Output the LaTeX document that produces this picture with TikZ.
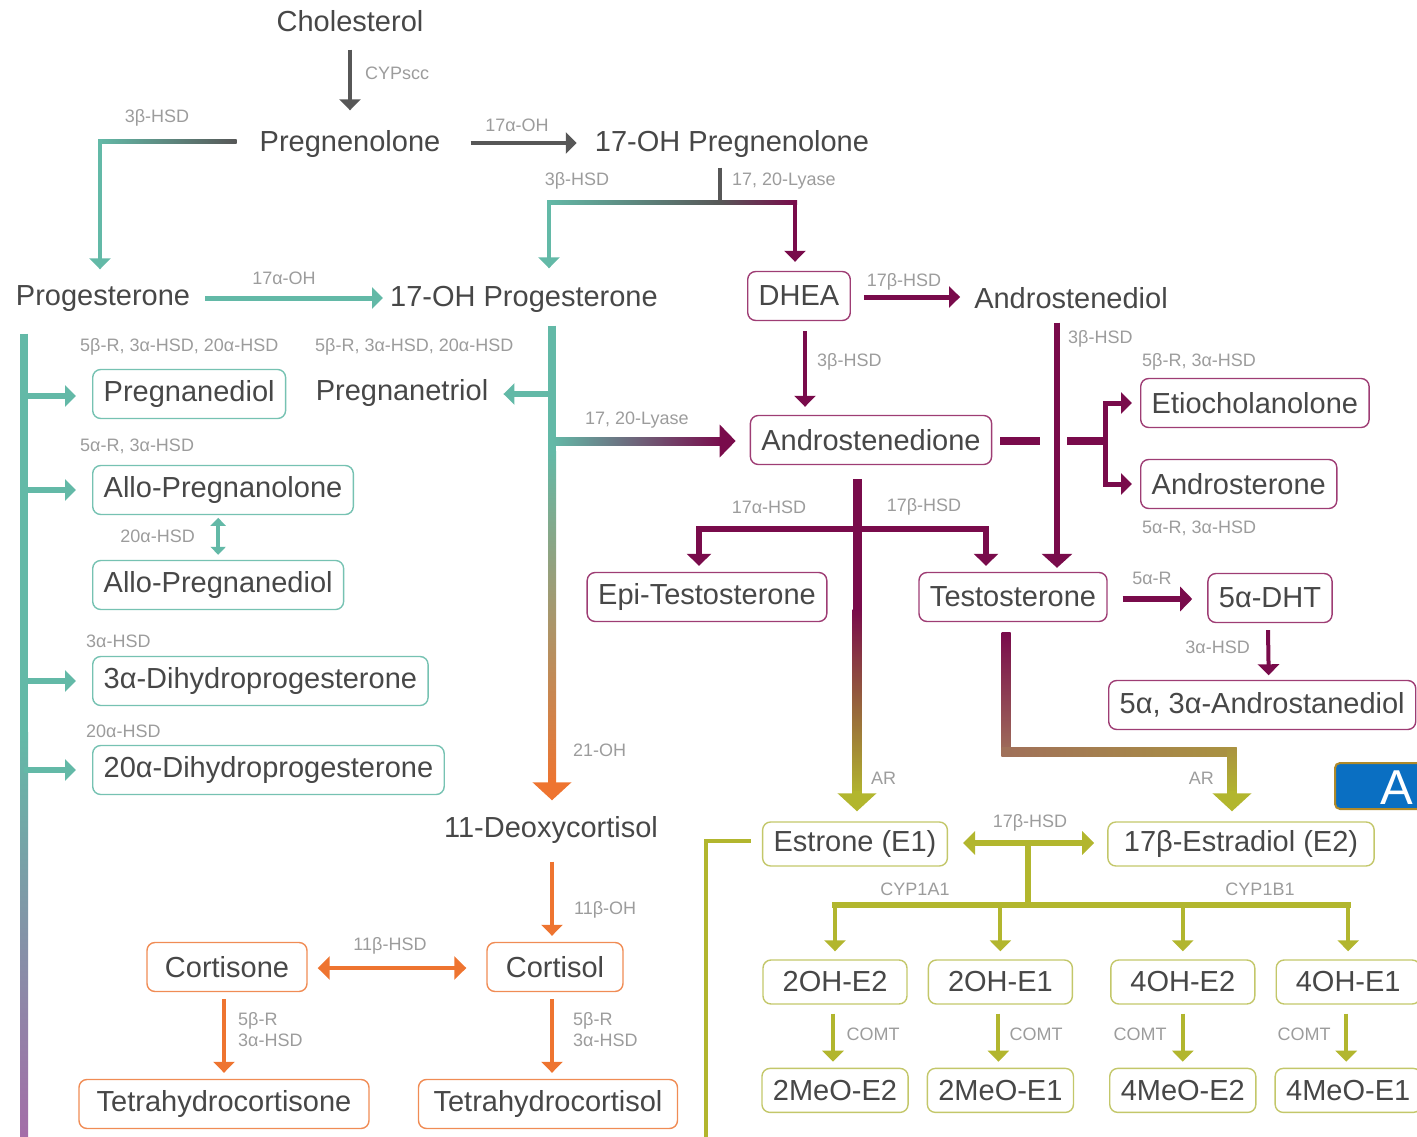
\documentclass[tikz,border=0pt]{standalone}
\usepackage{fontspec}
\setmainfont{Liberation Sans}
\usetikzlibrary{calc, arrows.meta, positioning}

\definecolor{txtgrey}{HTML}{474747}
\definecolor{lblgrey}{HTML}{9C9C9C}
\definecolor{darkgrey}{HTML}{575757}
\definecolor{pteal}{HTML}{63B9A7}
\definecolor{pmaroon}{HTML}{790B4B}
\definecolor{porange}{HTML}{EE7430}
\definecolor{polive}{HTML}{B2B62E}
\definecolor{plilac}{HTML}{A56CA8}
\definecolor{pbrown}{HTML}{A0705A}
\definecolor{ptan}{HTML}{AA9340}
\definecolor{tealbox}{HTML}{76C2B2}
\definecolor{maroonbox}{HTML}{9E3D74}
\definecolor{orangebox}{HTML}{F08C55}
\definecolor{olivebox}{HTML}{C3C76A}
\definecolor{aiblue}{HTML}{0A6FC2}
\definecolor{aigold}{HTML}{B08A2A}

\begin{document}
\begin{tikzpicture}[x=1pt,y=-1pt,
  plaintxt/.style={text=txtgrey,font=\fontsize{29}{32}\selectfont,minimum height=49pt,inner xsep=11pt},
  bx/.style={plaintxt,draw,rounded corners=8pt,line width=1.4pt},
  tbox/.style={bx,draw=tealbox},
  mbox/.style={bx,draw=maroonbox},
  obox/.style={bx,draw=orangebox},
  ybox/.style={bx,draw=olivebox,minimum height=44pt},
  lbl/.style={text=lblgrey,font=\fontsize{18}{21}\selectfont,inner sep=0pt},
  stdtip/.style={-{Triangle[length=11pt,width=21pt]}},
  bigtip/.style={-{Triangle[length=18pt,width=38pt]}},
  dbltip/.style={{Triangle[length=12pt,width=23pt]}-{Triangle[length=12pt,width=23pt]}},
  garr/.style={darkgrey,line width=4pt,stdtip},
  tarr/.style={pteal,line width=5pt,stdtip},
  marr/.style={pmaroon,line width=5pt,stdtip},
  oarr/.style={porange,line width=4pt,stdtip},
  yarr/.style={polive,line width=4pt,stdtip}]
\useasboundingbox (0,0) rectangle (1417,1137);

% compounds
\node[plaintxt] (chol)   at (350,21)  {Cholesterol};
\node[plaintxt] (preg)   at (350,144) {Pregnenolone};
\node[plaintxt] (ohpreg) at (732,144) {17-OH Pregnenolone};
\node[plaintxt] (prog)   at (103,299) {Progesterone};
\node[plaintxt] (ohprog) at (524,299) {17-OH Progesterone};
\node[mbox]     (dhea)   at (799,296) {DHEA};
\node[plaintxt] (adiol)  at (1071,298) {Androstenediol};
\node[tbox,anchor=west] (pdiol)    at (92,394) {Pregnanediol};
\node[plaintxt]         (ptriol)   at (402,393) {Pregnanetriol};
\node[tbox,anchor=west] (allopreg) at (92,490) {Allo-Pregnanolone};
\node[tbox,anchor=west] (allodiol) at (92,585) {Allo-Pregnanediol};
\node[tbox,anchor=west] (dhpa)     at (92,681) {3α-Dihydroprogesterone};
\node[tbox,anchor=west] (dhpb)     at (92,770) {20α-Dihydroprogesterone};
\node[mbox] (adione) at (871,440) {Androstenedione};
\node[mbox,anchor=west] (etio)  at (1140,403) {Etiocholanolone};
\node[mbox,anchor=west] (andro) at (1140,484) {Androsterone};
\node[mbox] (epi)   at (707,597) {Epi-Testosterone};
\node[mbox] (testo) at (1013,597) {Testosterone};
\node[mbox] (dht)   at (1270,598) {5α-DHT};
\node[mbox,anchor=west] (adiolb) at (1108,705) {5α, 3α-Androstanediol};
\node[plaintxt] (deoxy) at (551,830) {11-Deoxycortisol};
\node[obox,minimum width=160pt] (cortisone) at (227,967) {Cortisone};
\node[obox,minimum width=136pt] (cortisol)  at (555,967) {Cortisol};
\node[obox,minimum width=290pt] (thcone)    at (224,1104) {Tetrahydrocortisone};
\node[obox,minimum width=259pt] (thcol)     at (548,1104) {Tetrahydrocortisol};
\node[ybox] (estrone)   at (855,844) {Estrone (E1)};
\node[ybox,inner xsep=16pt] (estradiol) at (1241,844) {17β-Estradiol (E2)};
\node[ybox,minimum width=144pt] (ohee)  at (835,982) {2OH-E2};
\node[ybox,minimum width=144pt,right=20pt of ohee] (ohea) {2OH-E1};
\node[ybox,minimum width=144pt,right=37pt of ohea] (ohfe) {4OH-E2};
\node[ybox,minimum width=144pt,right=20pt of ohfe] (ohfa) {4OH-E1};
\node[ybox,minimum width=144pt,below=63pt of ohee] (meoee) {2MeO-E2};
\node[ybox,minimum width=144pt,below=63pt of ohea] (meoea) {2MeO-E1};
\node[ybox,minimum width=144pt,below=63pt of ohfe] (meofe) {4MeO-E2};
\node[ybox,minimum width=144pt,below=63pt of ohfa] (meofa) {4MeO-E1};
\node[draw=aigold,fill=aiblue,line width=2pt,rounded corners=5pt,anchor=west,
      minimum width=150pt,minimum height=46pt] (aibox) at (1334,786) {};
\node[text=white,font=\fontsize{49}{50}\selectfont,anchor=west,inner sep=0pt] (aitxt) at (1380,788) {A};

% enzyme labels
\node[lbl,anchor=west] (lcypscc) at (365,73) {CYPscc};
\node[lbl] (lhsda) at (157,118) {3β-HSD};
\node[lbl] (lohpa) at (517,125) {17α-OH};
\node[lbl] (lhsdb) at (577,181) {3β-HSD};
\node[lbl,anchor=west] (llyasea) at (732,181) {17, 20-Lyase};
\node[lbl] (lohpb) at (284,278) {17α-OH};
\node[lbl] (lhsdc) at (904,282) {17β-HSD};
\node[lbl,anchor=west] (lhsdd) at (817,362) {3β-HSD};
\node[lbl,anchor=west] (lhsde) at (1068,339) {3β-HSD};
\node[lbl,anchor=west] (letio) at (1142,362) {5β-R, 3α-HSD};
\node[lbl,anchor=west] (landro) at (1142,528) {5α-R, 3α-HSD};
\node[lbl,anchor=west] (lpdiol) at (80,347) {5β-R, 3α-HSD, 20α-HSD};
\node[lbl,anchor=west] (lptriol) at (315,347) {5β-R, 3α-HSD, 20α-HSD};
\node[lbl,anchor=west] (lallo) at (80,446) {5α-R, 3α-HSD};
\node[lbl,anchor=east] (lallodiol) at (195,536) {20α-HSD};
\node[lbl,anchor=west] (ldhpa) at (86,641) {3α-HSD};
\node[lbl,anchor=west] (ldhpb) at (86,731) {20α-HSD};
\node[lbl,anchor=west] (llyaseb) at (585,420) {17, 20-Lyase};
\node[lbl,anchor=west] (lohc) at (573,750) {21-OH};
\node[lbl] (lepi) at (769,507) {17α-HSD};
\node[lbl] (ltesto) at (924,507) {17β-HSD};
\node[lbl,anchor=west] (lara) at (871,778) {AR};
\node[lbl,anchor=east] (larb) at (1214,778) {AR};
\node[lbl] (ldht) at (1152,578) {5α-R};
\node[lbl,anchor=east] (ladiolb) at (1250,647) {3α-HSD};
\node[lbl,anchor=west] (lcortisol) at (574,910) {11β-OH};
\node[lbl] (lcortisone) at (390,946) {11β-HSD};
\node[lbl,anchor=west,align=left] (lthcone) at (238,1030) {5β-R\\3α-HSD};
\node[lbl,anchor=west,align=left] (lthcol) at (573,1030) {5β-R\\3α-HSD};
\node[lbl] (lestr) at (1030,823) {17β-HSD};
\node[lbl] (lcypa) at (915,889) {CYP1A1};
\node[lbl] (lcypb) at (1260,889) {CYP1B1};
\node[lbl] (lcomta) at (873,1034) {COMT};
\node[lbl] (lcomtb) at (1036,1034) {COMT};
\node[lbl] (lcomtc) at (1140,1034) {COMT};
\node[lbl] (lcomtd) at (1304,1034) {COMT};

% pregnenolone branch
\draw[garr] ($(chol.south)+(0,4)$) -- ($(preg.north)+(0,-9)$);
\draw[garr] ($(preg.east)+(19,-1)$) -- ($(ohpreg.west)+(-7,-1)$);
\coordinate (pk) at ($(prog.north)+(-3,-133)$);
\shade[left color=pteal,right color=darkgrey] ($(pk)+(-2,-2)$) rectangle ($(preg.west)+(-12,0)$);
\draw[tarr,line width=4pt] ($(pk)+(0,-2)$) -- ($(prog.north)+(-3,-5)$);
\coordinate (lyj) at ($(ohpreg.south)+(-12,34)$);
\coordinate (lyl) at ($(ohprog.north |- lyj)+(25,0)$);
\coordinate (lyr) at ($(dhea.north |- lyj)+(-4,0)$);
\draw[darkgrey,line width=4pt] ($(ohpreg.south)+(-12,-1)$) -- ($(lyj)+(0,2)$);
\shade[left color=pteal,right color=darkgrey] ($(lyl)+(-2,-2)$) rectangle ($(lyj)+(0,2)$);
\shade[left color=darkgrey,right color=pmaroon] ($(lyj)+(0,-2)$) rectangle ($(lyr)+(2,2)$);
\draw[tarr,line width=4pt] ($(lyl)+(0,-2)$) -- ($(ohprog.north)+(25,-6)$);
\draw[marr,line width=4pt] ($(lyr)+(0,-2)$) -- ($(dhea.north)+(-4,-9)$);
\draw[tarr] ($(prog.east)+(4,-1)$) -- ($(ohprog.west)+(4,-1)$);

% progesterone metabolites
\coordinate (lb) at ($(prog.south)+(-79,10)$);
\draw[pteal,line width=8pt] (lb) -- ($(lb)+(0,400)$);
\shade[top color=pteal,bottom color=plilac] ($(lb)+(-4,399)$) rectangle ($(lb)+(4,810)$);
\draw[tarr,line width=6pt] ($(lb |- pdiol.west)+(0,2)$) -- ($(pdiol.west)+(-16,2)$);
\draw[tarr,line width=6pt] (lb |- allopreg.west) -- ($(allopreg.west)+(-16,0)$);
\draw[tarr,line width=6pt] (lb |- dhpa.west) -- ($(dhpa.west)+(-16,0)$);
\draw[tarr,line width=6pt] (lb |- dhpb.west) -- ($(dhpb.west)+(-16,0)$);
\draw[pteal,line width=4pt,{Triangle[length=8pt,width=15pt]}-{Triangle[length=8pt,width=15pt]}]
  ($(allodiol.north)+(0,-42)$) -- ($(allodiol.north)+(0,-5)$);

% 17-OH progesterone trunk
\coordinate (tk) at ($(ohprog.south)+(28,2)$);
\draw[pteal,line width=8pt] (tk) -- ($(tk)+(0,127)$);
\shade[top color=pteal,bottom color=porange] ($(tk)+(-4,126)$) rectangle ($(deoxy.north)+(5,-21)$);
\draw[porange,line width=8pt,bigtip] ($(deoxy.north)+(1,-25)$) -- ($(deoxy.north)+(1,-5)$);
\draw[tarr,line width=6pt] ($(tk |- ptriol.east)+(0,1)$) -- ($(ptriol.east)+(4,1)$);
\shade[left color=pteal,right color=pmaroon] ($(tk |- adione.west)+(0,-3)$) rectangle ($(adione.west)+(-26,5)$);
\draw[pmaroon,line width=8pt,-{Triangle[length=16pt,width=32pt]}] ($(adione.west)+(-30,1)$) -- ($(adione.west)+(-14,1)$);

% androgens
\draw[marr] ($(dhea.east)+(13,1)$) -- ($(adiol.west)+(-3,-1)$);
\draw[marr,line width=4pt] ($(dhea.south)+(6,10)$) -- ($(adione.north)+(-66,-8)$);
\draw[pmaroon,line width=6pt,-{Triangle[length=14pt,width=30pt]}] ($(adiol.south)+(-14,0)$) -- ($(testo.north)+(44,-4)$);
\draw[pmaroon,line width=8pt] ($(adione.east)+(8,1)$) -- ($(adione.east)+(48,1)$);
\coordinate (ej) at ($(adione.east)+(113,1)$);
\draw[pmaroon,line width=8pt] ($(adione.east)+(75,1)$) -- ($(ej)+(3,0)$);
\draw[marr] ($(ej)+(0,4)$) |- ($(etio.west)+(-8,0)$);
\draw[marr] ($(ej)+(0,-4)$) |- ($(andro.west)+(-8,0)$);
\coordinate (aj) at ($(adione.south)+(-14,64)$);
\draw[pmaroon,line width=9pt] ($(adione.south)+(-14,14)$) -- ($(adione.south)+(-14,145)$);
\shade[top color=pmaroon,bottom color=polive] ($(adione.south)+(-18.5,144)$) rectangle ($(estrone.north)+(6.5,-26)$);
\draw[polive,line width=9pt,bigtip] ($(estrone.north)+(2,-30)$) -- ($(estrone.north)+(2,-10)$);
\draw[marr,line width=6pt,-{Triangle[length=12pt,width=24pt]}] (aj) -| ($(epi.north)+(-8,-6)$);
\draw[marr,line width=6pt,-{Triangle[length=12pt,width=24pt]}] (aj) -| ($(testo.north)+(-27,-6)$);
\draw[marr,line width=6pt,-{Triangle[length=12pt,width=24pt]}] ($(testo.east)+(15,2)$) -- ($(dht.west)+(-15,1)$);
\draw[marr,line width=4pt] ($(dht.south)+(-2,7)$) -- ($(adiolb.north)+(6.5,-4.5)$);
\coordinate (ar) at ($(testo.south)+(-7,130)$);
\shade[top color=pmaroon,bottom color=pbrown] ($(testo.south)+(-11.5,10)$) rectangle ($(ar)+(4.5,4.5)$);
\shade[left color=pbrown,right color=ptan] ($(ar)+(-4.5,-4.5)$) rectangle ($(estradiol.north |- ar)+(-4.5,4.5)$);
\shade[top color=ptan,bottom color=polive] ($(estradiol.north |- ar)+(-13.5,-4.5)$) rectangle ($(estradiol.north)+(-4.5,-26)$);
\draw[polive,line width=9pt,bigtip] ($(estradiol.north)+(-9,-30)$) -- ($(estradiol.north)+(-9,-10)$);

% estrogens
\draw[polive,line width=4pt] ($(estrone.west)+(-11,-3)$) -| ($(estrone.west)+(-56,310)$);
\draw[polive,line width=6pt,dbltip] ($(estrone.east)+(15,-1)$) -- ($(estradiol.west)+(-13,-1)$);
\coordinate (cj) at ($(estrone.east)!0.5!(estradiol.west)$);
\coordinate (cyp) at ($(cj)+(0,61)$);
\draw[polive,line width=6pt] (cj) -- (cyp);
\draw[polive,line width=6pt] ($(ohee.north |- cyp)+(-3,0)$) -- ($(ohfa.north |- cyp)+(3,0)$);
\draw[yarr] (ohee.north |- cyp) -- ($(ohee.north)+(0,-8)$);
\draw[yarr] (ohea.north |- cyp) -- ($(ohea.north)+(0,-8)$);
\draw[yarr] (ohfe.north |- cyp) -- ($(ohfe.north)+(0,-8)$);
\draw[yarr] (ohfa.north |- cyp) -- ($(ohfa.north)+(0,-8)$);
\draw[yarr] ($(ohee.south)+(-2,9)$) -- ($(meoee.north)+(-2,-6)$);
\draw[yarr] ($(ohea.south)+(-2,9)$) -- ($(meoea.north)+(-2,-6)$);
\draw[yarr] ($(ohfe.south)+(0,9)$) -- ($(meofe.north)+(0,-6)$);
\draw[yarr] ($(ohfa.south)+(-2,9)$) -- ($(meofa.north)+(-2,-6)$);

% corticoids
\draw[oarr] ($(deoxy.south)+(1,7)$) -- ($(cortisol.north)+(-3,-6)$);
\draw[porange,line width=4pt,dbltip] ($(cortisone.east)+(10,1)$) -- ($(cortisol.west)+(-20,1)$);
\draw[oarr] ($(cortisone.south)+(-3,7)$) -- ($(thcone.north)+(0,-6)$);
\draw[oarr] ($(cortisol.south)+(-3,7)$) -- ($(thcol.north)+(4,-6)$);
\end{tikzpicture}
\end{document}
